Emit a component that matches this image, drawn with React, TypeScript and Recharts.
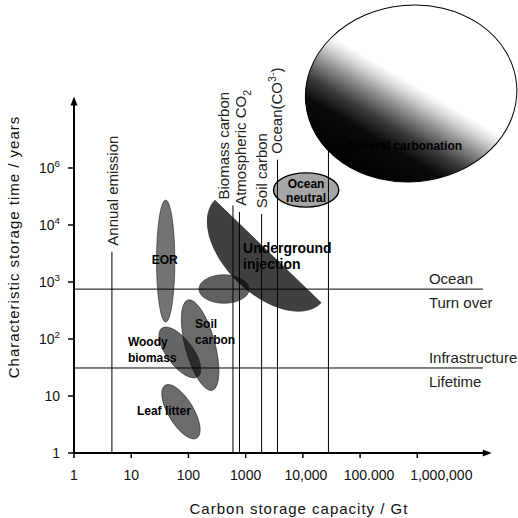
import { ComposedChart, XAxis, YAxis, Scatter, ReferenceLine } from "recharts";

// axis ticks
const xTicks = [1, 10, 100, 1000, 10000, 100000, 1000000];
const xTickLabels = ["1", "10", "100", "1000", "10,000", "100.000", "1,000,000"];
const yTicks = [1, 10, 100, 1000, 10000, 100000];
const yTickLabels = ["1", "10", "10^{2}", "10^{3}", "10^{4}", "10^{6}"];

// carbon pools (Gt) drawn as vertical lines, with how high each line reaches (years)
const poolNames = ["Annual emission", "Biomass carbon", "Atmospheric CO_{2}", "Soil carbon", "Ocean(CO^{3-})", ""];
const poolSizes = [4.6, 600, 780, 1900, 3600, 28000];
const poolTops = [3400, 22000, 17000, 15500, 140000, 210000];

// characteristic times (years) drawn as horizontal lines
const timeAbove = ["Ocean", "Infrastructure"];
const timeBelow = ["Turn over", "Lifetime"];
const timeYears = [750, 31];
const timeLineEnd = 1.4e7;

// axis arrow ends
const xArrowEnd = 2e7;
const yArrowEnd = 1.8e6;

// storage options: centre (Gt, years), half-axes in decades, tilt in degrees
const storeIds = ["mineral", "oceanNeutral", "underground", "pool", "eor", "soil", "woody", "leaf"];
const storeLabels = [
  ["Mineral carbonation"],
  ["Ocean", "neutral"],
  ["Underground", "injection"],
  [],
  ["EOR"],
  ["Soil", "carbon"],
  ["Woody", "biomass"],
  ["Leaf litter"],
];
const storeGt = [780000, 11400, 2460, 420, 40, 160, 71, 74];
const storeYears = [2030000, 41100, 3430, 753, 2330, 78, 58, 5.3];
const storeHalfX = [1.85, 0.57, 1.29, 0.44, 0.16, 0.26, 0.23, 0.22];
const storeHalfY = [1.55, 0.3, 0.75, 0.25, 1.07, 0.82, 0.53, 0.54];
const storeTilt = [-5, 0, 44, 0, 0, -15, -37, -31];

const W = 518;
const H = 518;
const Y_AXIS_W = 74;
const X_AXIS_H = 65;
const X_DECADES = 7.76;
const Y_DECADES = 7.947;
const PX_X = (W - Y_AXIS_W) / X_DECADES;
const PX_Y = (H - X_AXIS_H) / Y_DECADES;
const FONT = "'Liberation Sans', Arial, sans-serif";

const X_TICK_SHIFT = [0, 0, 0, 0, 3, 9, 24];

const STORE_STYLE: Record<string, any> = {
  mineral: { fill: "url(#mineralShade)", op: 1, stroke: "#000", sw: 1 },
  oceanNeutral: { fill: "#000", op: 0.35, stroke: "#000", sw: 1.4 },
  underground: { fill: "#000", op: 0.75, stroke: "#222", sw: 0.6, half: true },
  pool: { fill: "#000", op: 0.62, stroke: "#222", sw: 0.6 },
  eor: { fill: "#000", op: 0.55, stroke: "#222", sw: 0.6 },
  soil: { fill: "#000", op: 0.58, stroke: "#222", sw: 0.6 },
  woody: { fill: "#000", op: 0.6, stroke: "#222", sw: 0.6 },
  leaf: { fill: "#000", op: 0.58, stroke: "#222", sw: 0.6 },
};

const STORE_TEXT: Record<string, any> = {
  mineral: { dx: 51, dy: [56.5], anchor: "end", size: 12 },
  oceanNeutral: { dx: 0, dy: [-2, 12], anchor: "middle", size: 12 },
  underground: { dx: -25, dy: [1.5, 17.5], anchor: "start", size: 14 },
  pool: { dx: 0, dy: [], anchor: "middle", size: 12 },
  eor: { dx: -1, dy: [3], anchor: "middle", size: 12 },
  soil: { dx: -5, dy: [-17, -1], anchor: "start", size: 12 },
  woody: { dx: -52, dy: [-6.5, 9.5], anchor: "start", size: 12 },
  leaf: { dx: -44, dy: [3.5], anchor: "start", size: 12 },
};

const POOL_DX = [1, -9, 2, 0, 0, 0];

const storeData = storeIds.map((id, i) => ({
  id,
  lines: storeLabels[i],
  x: storeGt[i],
  y: storeYears[i],
  hx: storeHalfX[i],
  hy: storeHalfY[i],
  tilt: storeTilt[i],
}));

// "CO_{2}" / "10^{6}" -> tspans
function rich(s: string, fs: number) {
  const parts = s.split(/([_^]\{[^}]*\})/).filter((p) => p !== "");
  const out: any[] = [];
  let shift = 0;
  parts.forEach((p, k) => {
    const m = p.match(/^([_^])\{([^}]*)\}$/);
    if (m) {
      const d = m[1] === "^" ? -fs * 0.4 : fs * 0.28;
      out.push(
        <tspan key={k} dy={d - shift} fontSize={fs * 0.7}>
          {m[2]}
        </tspan>
      );
      shift = d;
    } else {
      out.push(
        <tspan key={k} dy={-shift}>
          {p}
        </tspan>
      );
      shift = 0;
    }
  });
  return out;
}

function StoreShape(props: any) {
  const { cx, cy, payload } = props;
  if (cx == null || cy == null) return null;
  const st = STORE_STYLE[payload.id];
  const tx = STORE_TEXT[payload.id];
  const rx = payload.hx * PX_X;
  const ry = payload.hy * PX_Y;
  const common = {
    fill: st.fill,
    fillOpacity: st.op,
    stroke: st.stroke,
    strokeWidth: st.sw,
  };
  return (
    <g>
      <g transform={`translate(${cx},${cy}) rotate(${payload.tilt})`}>
        {st.half ? (
          <path d={`M ${-rx} 0 A ${rx} ${ry} 0 0 0 ${rx} 0 Z`} {...common} />
        ) : (
          <ellipse cx={0} cy={0} rx={rx} ry={ry} {...common} />
        )}
      </g>
      {payload.lines.map((t: string, k: number) => (
        <text
          key={k}
          x={cx + tx.dx}
          y={cy + tx.dy[k]}
          textAnchor={tx.anchor}
          fontSize={tx.size}
          fontWeight="bold"
          fontFamily={FONT}
          fill="#000"
        >
          {t}
        </text>
      ))}
    </g>
  );
}

function AxisArrow(p: any) {
  const { x1, y1, x2, y2 } = p;
  const a = Math.atan2(y2 - y1, x2 - x1);
  const c = Math.cos(a);
  const s = Math.sin(a);
  const L = 9;
  const hw = 3.5;
  const bx = x2 - L * c;
  const by = y2 - L * s;
  return (
    <g>
      <line x1={x1} y1={y1} x2={bx + c} y2={by + s} stroke="#000" strokeWidth={2} />
      <polygon
        points={`${x2},${y2} ${bx - hw * s},${by + hw * c} ${bx + hw * s},${by - hw * c}`}
        fill="#000"
      />
    </g>
  );
}

function XTick(p: any) {
  const i = xTicks.indexOf(p.payload.value);
  return (
    <text
      x={p.x + (X_TICK_SHIFT[i] || 0)}
      y={p.y + 20}
      textAnchor="middle"
      fontSize={14}
      fontFamily={FONT}
      fill="#111"
    >
      {xTickLabels[i]}
    </text>
  );
}

function YTick(p: any) {
  const i = yTicks.indexOf(p.payload.value);
  return (
    <text x={p.x - 6} y={p.y + 5} textAnchor="end" fontSize={14} fontFamily={FONT} fill="#111">
      {rich(yTickLabels[i], 14)}
    </text>
  );
}

function PoolLabel({ viewBox, idx }: any) {
  const name = poolNames[idx];
  if (!name || !viewBox) return null;
  const x = viewBox.x + POOL_DX[idx] + 5;
  const y = viewBox.y - 6;
  return (
    <text
      transform={`translate(${x},${y}) rotate(-90)`}
      fontSize={15}
      fontFamily={FONT}
      fill="#222"
    >
      {rich(name, 15)}
    </text>
  );
}

function TimeLabel({ viewBox, idx }: any) {
  if (!viewBox) return null;
  const x = viewBox.x + viewBox.width - 54;
  return (
    <g fontSize={15} fontFamily={FONT} fill="#222">
      <text x={x} y={viewBox.y - 5}>
        {timeAbove[idx]}
      </text>
      <text x={x} y={viewBox.y + 19}>
        {timeBelow[idx]}
      </text>
    </g>
  );
}

export default function App() {
  return (
    <div style={{ position: "absolute", left: 0, top: 0, width: W, height: H, background: "#fff" }}>
      <svg width={0} height={0} style={{ position: "absolute" }}>
        <defs>
          <linearGradient id="mineralShade" x1="0.175" y1="0.88" x2="0.825" y2="0.12">
            <stop offset="0" stopColor="#000" />
            <stop offset="0.2" stopColor="#0a0a0a" />
            <stop offset="0.3" stopColor="#3a3a3a" />
            <stop offset="0.4" stopColor="#8a8a8a" />
            <stop offset="0.49" stopColor="#d8d8d8" />
            <stop offset="0.55" stopColor="#fff" />
          </linearGradient>
        </defs>
      </svg>
      <ComposedChart width={W} height={H} margin={{ top: 0, right: 0, bottom: 0, left: 0 }}>
        <XAxis
          dataKey="x"
          type="number"
          scale="log"
          domain={[1, 10 ** X_DECADES]}
          allowDataOverflow
          ticks={xTicks}
          height={X_AXIS_H}
          axisLine={false}
          tickSize={5}
          tickLine={{ stroke: "#000", strokeWidth: 1.5 }}
          tick={(p: any) => <XTick {...p} />}
          label={{
            content: ({ viewBox }: any) => (
              <text
                x={viewBox.x + 225}
                y={viewBox.y + 61}
                textAnchor="middle"
                fontSize={15}
                letterSpacing={1}
                fontFamily={FONT}
                fill="#111"
              >
                Carbon storage capacity / Gt
              </text>
            ),
          }}
        />
        <YAxis
          dataKey="y"
          type="number"
          scale="log"
          domain={[1, 10 ** Y_DECADES]}
          allowDataOverflow
          ticks={yTicks}
          width={Y_AXIS_W}
          axisLine={false}
          tickSize={6}
          tickLine={{ stroke: "#000", strokeWidth: 1.5 }}
          tick={(p: any) => <YTick {...p} />}
          label={{
            content: () => (
              <text
                transform="translate(19,247) rotate(-90)"
                textAnchor="middle"
                fontSize={15}
                letterSpacing={1}
                fontFamily={FONT}
                fill="#111"
              >
                Characteristic storage time / years
              </text>
            ),
          }}
        />
        <Scatter
          data={storeData}
          dataKey="y"
          isAnimationActive={false}
          legendType="none"
          shape={(p: any) => <StoreShape {...p} />}
        />
        {poolSizes.map((g, i) => (
          <ReferenceLine
            key={`pool-${i}`}
            segment={[
              { x: g, y: 1 },
              { x: g, y: poolTops[i] },
            ]}
            ifOverflow="visible"
            stroke="#000"
            strokeWidth={1}
            label={(p: any) => <PoolLabel viewBox={p.viewBox} idx={i} />}
          />
        ))}
        {timeYears.map((t, i) => (
          <ReferenceLine
            key={`time-${i}`}
            segment={[
              { x: 1, y: t },
              { x: timeLineEnd, y: t },
            ]}
            ifOverflow="visible"
            stroke="#000"
            strokeWidth={1}
            label={(p: any) => <TimeLabel viewBox={p.viewBox} idx={i} />}
          />
        ))}
        <ReferenceLine
          segment={[
            { x: 1, y: 1 },
            { x: xArrowEnd, y: 1 },
          ]}
          ifOverflow="visible"
          shape={(p: any) => <AxisArrow {...p} />}
        />
        <ReferenceLine
          segment={[
            { x: 1, y: 1 },
            { x: 1, y: yArrowEnd },
          ]}
          ifOverflow="visible"
          shape={(p: any) => <AxisArrow {...p} />}
        />
      </ComposedChart>
    </div>
  );
}
